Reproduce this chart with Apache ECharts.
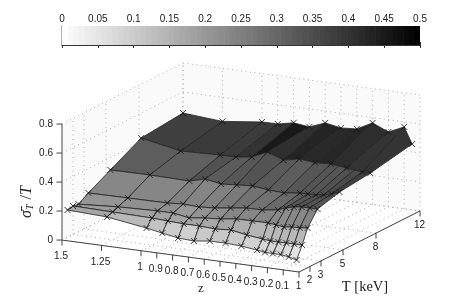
<!DOCTYPE html><html><head><meta charset="utf-8"></head><body style="margin:0;background:#fff"><div id="c" style="width:463px;height:308px"></div>
<script src="https://cdn.jsdelivr.net/npm/echarts@6/dist/echarts.min.js"></script>
<script>
const zValues=[1.5,1.25,1,0.9,0.8,0.7,0.6,0.5,0.4,0.3,0.25,0.2,0.15,0.1,0.05];
const tValues=[1.5,2,2.5,3.4,5.4,8.2,12];
const sigmaT15=[.188,.177,.137,.117,.098,.092,.106,.107,.101,.088,.079,.079,.079,.070,.056];
const sigmaT20=[.197,.192,.187,.181,.176,.176,.170,.178,.158,.145,.139,.139,.140,.140,.140];
const sigmaT25=[.190,.208,.217,.217,.198,.212,.220,.235,.236,.237,.230,.223,.231,.232,.239];
const sigmaT34=[.233,.235,.237,.245,.239,.247,.261,.276,.277,.292,.313,.327,.334,.335,.335];
const sigmaT54=[.315,.317,.312,.341,.321,.329,.337,.324,.318,.332,.333,.333,.341,.355,.376];
const sigmaT82=[.428,.375,.384,.385,.400,.450,.408,.430,.420,.425,.419,.412,.406,.399,.399];
const sigmaT120=[.455,.434,.467,.468,.490,.477,.519,.499,.507,.563,.536,.515,.537,.565,.454];
const sigma=[sigmaT15,sigmaT20,sigmaT25,sigmaT34,sigmaT54,sigmaT82,sigmaT120];
const zTicks=[1.5,1.25,1,0.9,0.8,0.7,0.6,0.5,0.4,0.3,0.2,0.1];
const tTicks=[1,2,3,5,8,12];
const vTicks=[0,0.2,0.4,0.6,0.8];
const coarseSkip=[0.25,0.15];

const FONT='"Liberation Sans",Arial,sans-serif', SERIF='"Liberation Serif",serif';
const Z0=0,Z1=1.5,T0=1,T1=12,V0=0,V1=0.8;
function P(z,t,v){return [299-158*z+11*(t-1),272-21.3*z-5.55*(t-1)-145*v];}
function gray(v){const g=Math.round(255*Math.max(0,1-v/0.5));return `rgb(${g},${g},${g})`;}

const walls=[],dots=[],axes=[],ticks=[],labels=[],faces=[],marks=[];
walls.push([P(Z1,T0,V0),P(Z1,T1,V0),P(Z1,T1,V1),P(Z1,T0,V1)]);
walls.push([P(Z0,T1,V0),P(Z1,T1,V0),P(Z1,T1,V1),P(Z0,T1,V1)]);
zTicks.concat([Z0]).forEach(z=>{
  dots.push([P(z,T0,V0),P(z,T1,V0)]);
  dots.push([P(z,T1,V0),P(z,T1,V1)]);
});
tTicks.forEach(t=>{
  dots.push([P(Z0,t,V0),P(Z1,t,V0)]);
  dots.push([P(Z1,t,V0),P(Z1,t,V1)]);
});
vTicks.forEach(v=>{
  dots.push([P(Z1,T0,v),P(Z1,T1,v)]);
  dots.push([P(Z1,T1,v),P(Z0,T1,v)]);
});
axes.push({p:[P(Z1,T0,V0),P(Z0,T0,V0)],c:'#444',w:1});
axes.push({p:[P(Z0,T0,V0),P(Z0,T1,V0)],c:'#444',w:1});
axes.push({p:[P(Z1,T0,V0),P(Z1,T0,V1)],c:'#8c8c8c',w:1.6});
zTicks.forEach(z=>{const a=P(z,T0,V0);ticks.push([a,[a[0],a[1]+5.5]]);labels.push({x:a[0]-1,y:a[1]+16.5,t:String(z)});});
tTicks.forEach(t=>{const a=P(Z0,t,V0);ticks.push([a,[a[0],a[1]+5.5]]);labels.push({x:a[0]-0.5,y:a[1]+14,t:String(t)});});
vTicks.forEach(v=>{const a=P(Z1,T0,v);ticks.push([a,[a[0]-5.5,a[1]]]);labels.push({x:a[0]-9,y:a[1],t:v===0?'0':v.toFixed(1),align:'right'});});

// surface faces, far to near; flat colour from the lower-z, lower-T corner
const isFine=i=>coarseSkip.includes(zValues[i]);
for(let r=tValues.length-2;r>=0;r--){
  const cols=zValues.map((_,i)=>i).filter(i=>r<5||!isFine(i));
  for(let k=0;k<cols.length-1;k++){
    const a=cols[k],b=cols[k+1];
    faces.push({p:[P(zValues[a],tValues[r],sigma[r][a]),P(zValues[b],tValues[r],sigma[r][b]),P(zValues[b],tValues[r+1],sigma[r+1][b]),P(zValues[a],tValues[r+1],sigma[r+1][a])],c:gray(sigma[r][b])});
  }
}
tValues.forEach((t,r)=>zValues.forEach((z,i)=>{if(r<5||!isFine(i))marks.push(P(z,t,sigma[r][i]));}));

const poly=(pts,api,style)=>({type:'polygon',silent:true,shape:{points:pts.map(q=>api.coord(q))},style});
const line=(pts,api,style)=>({type:'polyline',silent:true,shape:{points:pts.map(q=>api.coord(q))},style});
function layer(data,render,z){return {type:'custom',xAxisIndex:2,yAxisIndex:1,clip:false,silent:true,animation:false,z:z||2,data:data.map((d,i)=>[i]),renderItem:(p,api)=>render(data[api.value(0)],api),encode:{x:[],y:[]}};}

const levels=[];for(let i=0;i<64;i++)levels.push([i/64*0.5,(i+1)/64*0.5,(i+0.5)/64*0.5]);
const barSeries={type:'custom',xAxisIndex:0,yAxisIndex:0,clip:true,silent:true,animation:false,z:1,data:levels,
  renderItem:(p,api)=>{const a=api.coord([api.value(0),0]),b=api.coord([api.value(1),1]);
    return {type:'rect',silent:true,shape:{x:a[0],y:b[1],width:b[0]-a[0]+0.6,height:a[1]-b[1]},style:{fill:gray(api.value(2))}};},encode:{x:[0,1],y:[]}};

const titles=[
 {x:201,y:289,text:'z',font:`13px ${SERIF}`},
 {x:365,y:287,text:'T [keV]',font:`14.5px ${SERIF}`}
];

const opt={animation:false,backgroundColor:'#fff',
 grid:[{left:62,right:43,top:26,height:19,containLabel:false,show:false},{left:0,top:0,width:463,height:308,show:false}],
 xAxis:[
  {gridIndex:0,type:'value',min:0,max:0.5,interval:0.05,position:'top',axisLine:{show:false},splitLine:{show:false},
   axisTick:{inside:true,length:3,lineStyle:{color:'#333'}},axisLabel:{margin:2,fontSize:10,fontFamily:FONT,color:'#222'}},
  {gridIndex:0,type:'value',min:0,max:0.5,interval:0.05,position:'bottom',axisLine:{show:true,onZero:false,lineStyle:{color:'#333'}},splitLine:{show:false},
   axisTick:{inside:true,length:3,lineStyle:{color:'#333'}},axisLabel:{show:false}},
  {gridIndex:1,type:'value',min:0,max:463,show:false}],
 yAxis:[
  {gridIndex:0,type:'value',min:0,max:1,show:true,axisLine:{show:true,onZero:false,lineStyle:{color:'#999',width:1.5}},axisTick:{show:false},axisLabel:{show:false},splitLine:{show:false}},
  {gridIndex:1,type:'value',min:0,max:308,inverse:true,show:false}],
 series:[barSeries,
  layer(walls,(d,api)=>poly(d,api,{fill:'#fafafa'}),2),
  layer(dots,(d,api)=>line(d,api,{stroke:'#b0b0b0',lineWidth:1,lineDash:[1,3.5],fill:null}),3),
  layer(axes,(d,api)=>line(d.p,api,{stroke:d.c,lineWidth:d.w,fill:null}),4),
  layer(ticks,(d,api)=>line(d,api,{stroke:'#444',lineWidth:1,fill:null}),4),
  layer(labels,(d,api)=>{const c=api.coord([d.x,d.y]);return {type:'text',silent:true,x:c[0],y:c[1],style:{text:d.t,font:`10px ${FONT}`,fill:'#222',align:d.align||'center',verticalAlign:'middle'}};},5),
  layer(faces,(d,api)=>poly(d.p,api,{fill:d.c,stroke:'#222',lineWidth:0.8,lineJoin:'round'}),6),
  layer(marks,(d,api)=>{const c=api.coord(d),s=3;return {type:'group',silent:true,children:[
     {type:'line',silent:true,shape:{x1:c[0]-s,y1:c[1]-s,x2:c[0]+s,y2:c[1]+s},style:{stroke:'#111',lineWidth:0.8}},
     {type:'line',silent:true,shape:{x1:c[0]-s,y1:c[1]+s,x2:c[0]+s,y2:c[1]-s},style:{stroke:'#111',lineWidth:0.8}}]};},7),
  layer(titles,(d,api)=>{const c=api.coord([d.x,d.y]);return {type:'text',silent:true,x:c[0],y:c[1],style:{text:d.text,font:d.font,fill:'#222',align:'center',verticalAlign:'middle'}};},5),
  layer([{x:27,y:202}],(d,api)=>{const c=api.coord([d.x,d.y]);return {type:'text',silent:true,x:c[0],y:c[1],rotation:Math.PI/2,style:{text:'{a|σ̄}{b|T}{c| /}{a|T}',align:'center',verticalAlign:'middle',fill:'#222',rich:{a:{font:`italic 16px ${SERIF}`,fill:'#222'},b:{font:`italic 10px ${SERIF}`,fill:'#222',padding:[6,1,0,0]},c:{font:`16px ${SERIF}`,fill:'#222'}}}};},5)
 ]};
const chart=echarts.init(document.getElementById('c'),null,{renderer:'canvas'});
chart.setOption(opt);
</script></body></html>
